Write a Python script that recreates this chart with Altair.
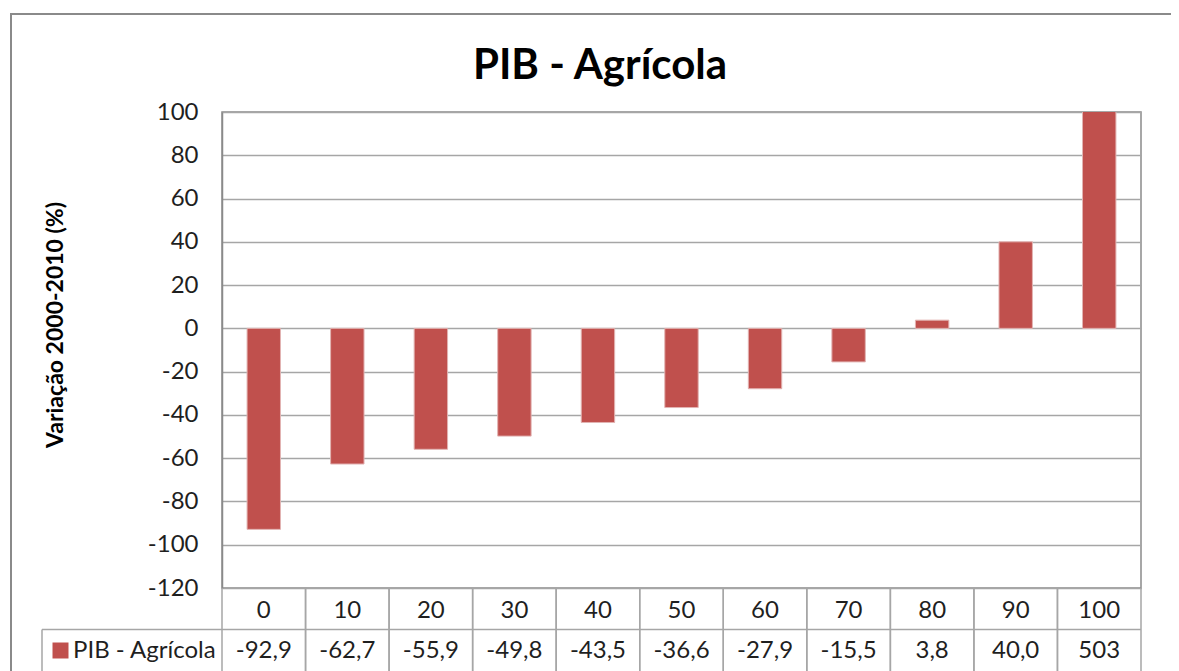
import altair as alt
import pandas as pd

# ---- data ----
categories = ["0", "10", "20", "30", "40", "50", "60", "70", "80", "90", "100"]
values = [-92.9, -62.7, -55.9, -49.8, -43.5, -36.6, -27.9, -15.5, 3.8, 40.0, 503]
value_labels = ["-92,9", "-62,7", "-55,9", "-49,8", "-43,5", "-36,6",
                "-27,9", "-15,5", "3,8", "40,0", "503"]
y_ticks = [-120, -100, -80, -60, -40, -20, 0, 20, 40, 60, 80, 100]
series_name = "PIB - Agrícola"
chart_title = "PIB - Agrícola"
y_title = "Variação 2000-2010 (%)"

df = pd.DataFrame({"cat": categories, "value": values, "label": value_labels})
one = pd.DataFrame({"k": [0]})

FONT = "Lato"
RED = "#C0504D"
GRID = "#A6A6A6"
TXT = "#1F1F1F"
FS = 24

W, H = 919, 476

xs = alt.Scale(paddingInner=0, paddingOuter=0)
X = alt.X("cat:N", sort=categories, axis=None, scale=xs)

base = alt.Chart(df)

# outer chart frame (top and left edges; the rest lies outside the picture)
frame_top = alt.Chart(one).mark_rule(color="#8A8A8A", strokeWidth=2).encode(
    x=alt.value(-212), x2=alt.value(1100), y=alt.value(-98)
)
frame_left = alt.Chart(one).mark_rule(color="#8A8A8A", strokeWidth=2).encode(
    x=alt.value(-211), y=alt.value(-99), y2=alt.value(700)
)

bars = base.mark_bar(
    width={"band": 0.4}, clip=True, color=RED, stroke="#E2B3B2", strokeWidth=1
).encode(
    x=X,
    y=alt.Y(
        "value:Q",
        scale=alt.Scale(domain=[-120, 100], nice=False, zero=True),
        axis=alt.Axis(
            values=y_ticks, title=None, ticks=False, labelPadding=24,
            labelExpr="'' + datum.value",
            labelFont=FONT, labelFontSize=FS, labelColor=TXT,
            grid=True, gridColor=GRID, gridWidth=1.5,
            domain=True, domainColor="#8A8A8A", domainWidth=1.5,
        ),
    ),
)

# table cell boundaries
rules_left = base.mark_rule(color=GRID, strokeWidth=1.5).encode(
    x=alt.X("cat:N", sort=categories, axis=None, scale=xs, bandPosition=0),
    y=alt.value(H), y2=alt.value(H + 120),
)
rules_right = base.mark_rule(color=GRID, strokeWidth=1.5).encode(
    x=alt.X("cat:N", sort=categories, axis=None, scale=xs, bandPosition=1),
    y=alt.value(H), y2=alt.value(H + 120),
)
row_line = alt.Chart(one).mark_rule(color=GRID, strokeWidth=1.5).encode(
    x=alt.value(-180), x2=alt.value(W), y=alt.value(H + 41.5)
)
legend_left = alt.Chart(one).mark_rule(color=GRID, strokeWidth=1.5).encode(
    x=alt.value(-180), y=alt.value(H + 41.5), y2=alt.value(H + 120)
)

header_text = base.mark_text(
    font=FONT, fontSize=FS, color=TXT, baseline="alphabetic", align="center"
).encode(x=X, y=alt.value(H + 30), text="cat:N")

value_text = base.mark_text(
    font=FONT, fontSize=FS, color=TXT, baseline="alphabetic", align="center"
).encode(x=X, y=alt.value(H + 70), text="label:N")

legend_sq = alt.Chart(one).mark_square(
    size=256, color=RED, opacity=1
).encode(x=alt.value(-161.5), y=alt.value(H + 62.5))

legend_txt = alt.Chart(pd.DataFrame({"t": [series_name]})).mark_text(
    font=FONT, fontSize=FS, color=TXT, baseline="alphabetic", align="left"
).encode(x=alt.value(-149), y=alt.value(H + 70), text="t:N")

title_txt = alt.Chart(pd.DataFrame({"t": [chart_title]})).mark_text(
    font=FONT, fontSize=42, fontWeight="bold", color="black",
    baseline="alphabetic", align="center"
).encode(x=alt.value(378), y=alt.value(-33), text="t:N")

ytitle_txt = alt.Chart(pd.DataFrame({"t": [y_title]})).mark_text(
    font=FONT, fontSize=23, fontWeight="bold", color="black",
    baseline="middle", align="center", angle=270
).encode(x=alt.value(-166), y=alt.value(213), text="t:N")

chart = alt.layer(
    frame_top, frame_left, bars, rules_left, rules_right, row_line, legend_left,
    header_text, value_text, legend_sq, legend_txt, title_txt, ytitle_txt
).properties(
    width=W, height=H,
    padding={"left": 214, "top": 104, "right": 30, "bottom": 183},
    autosize=alt.AutoSizeParams(type="none"),
    background="white",
).configure_view(
    stroke="#8A8A8A", strokeWidth=1.5
)

chart.save("out.html", embed_options={"renderer": "svg", "actions": False})
